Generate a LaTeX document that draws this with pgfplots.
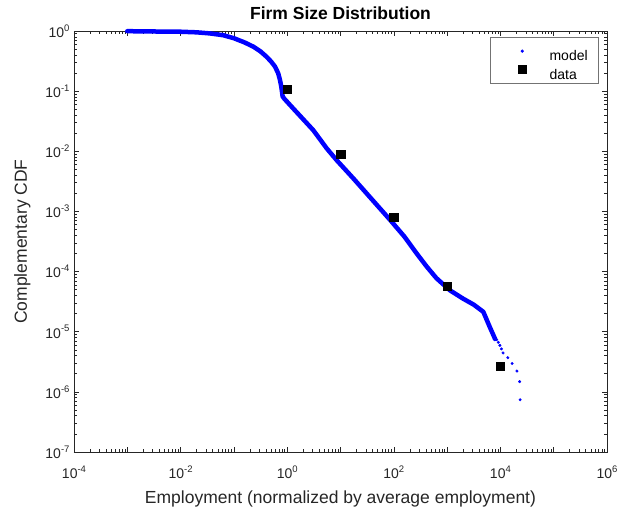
\documentclass[border=0pt]{standalone}
\usepackage{pgfplots}
\pgfplotsset{compat=1.18}
\usepackage{fontspec}
\setmainfont{Liberation Sans}
\newcommand{\tp}[1]{10\raisebox{0.44em}{\fontsize{9.5}{10}\selectfont #1}}
\begin{document}
\begin{tikzpicture}
\useasboundingbox (0,0) rectangle (618pt,509pt);
\begin{axis}[
  at={(74pt,57pt)}, anchor=south west,
  scale only axis, width=533pt, height=421pt,
  xmode=log, ymode=log,
  xmin=1e-4, xmax=1e6, ymin=1e-7, ymax=1,
  clip=false,
  axis line style={line width=0.8pt, black!85},
  every tick/.style={line width=0.6pt, black!85},
  tick align=inside,
  major tick length=5.5pt, minor tick length=3pt,
  xtick={1e-4,1e-3,1e-2,1e-1,1,1e1,1e2,1e3,1e4,1e5,1e6},
  xticklabels={\tp{-4},,\tp{-2},,\tp{0},,\tp{2},,\tp{4},,\tp{6}},
  ytick={1e-7,1e-6,1e-5,1e-4,1e-3,1e-2,1e-1,1},
  yticklabels={\tp{-7},\tp{-6},\tp{-5},\tp{-4},\tp{-3},\tp{-2},\tp{-1},\tp{0}},
  ticklabel style={font=\fontsize{14}{16}\selectfont, text=black!85},
  xticklabel style={yshift=-10pt},
  yticklabel style={xshift=-1pt},
  title={Firm Size Distribution},
  title style={at={(0.5,1)}, anchor=base, yshift=5.5pt, font=\fontsize{17.5}{20}\selectfont\bfseries},
  xlabel={Employment (normalized by average employment)},
  xlabel style={at={(axis description cs:0.5,0)}, anchor=base, yshift=-51pt, font=\fontsize{17.5}{20}\selectfont, text=black!85},
  ylabel={Complementary CDF},
  ylabel style={at={(axis description cs:0,0.5)}, anchor=base, yshift=47pt, font=\fontsize{17.5}{20}\selectfont, text=black!85},
  legend cell align=left,
  legend style={at={(rel axis cs:1,1)}, anchor=north east, xshift=-8pt, yshift=-6.3pt,
    draw=black!55, line width=0.6pt, font=\fontsize{14}{16}\selectfont,
    inner xsep=9pt, inner ysep=2pt, row sep=-4.6pt,
    nodes={inner ysep=0pt, text height=21pt, text depth=2pt}},
  legend image code/.code={\path (-23pt,0pt) (25pt,0pt); \draw[#1] plot coordinates {(0pt,0pt)};},
]
\addplot[blue, line width=4.5pt, line join=round, line cap=round, forget plot] coordinates {
(0.001,0.9931) (0.003162,0.9817) (0.01,0.9727) (0.01995,0.9506) (0.03548,0.9120)
(0.06310,0.8511) (0.1,0.7586) (0.1585,0.6457) (0.2312,0.5495) (0.3162,0.4571)
(0.4121,0.3715) (0.5012,0.3090) (0.5888,0.2570) (0.6761,0.1995) (0.7328,0.1531)
(0.7762,0.1175) (0.8222,0.08128) (0.8913,0.07413) (1.303,0.05129) (3.090,0.02239)
(5.495,0.01122) (8.511,0.007079) (17.38,0.003548) (85.11,7.244e-4) (158.5,3.802e-4)
(269.2,1.995e-4) (416.9,1.202e-4) (631.0,7.762e-5) (1122,4.898e-5) (1995,3.548e-5)
(3162,2.818e-5) (4786,2.138e-5) (6310,1.202e-5) (7943,7.59e-6)
};
\addplot[only marks, mark=*, mark size=1.3pt, blue, mark options={draw=blue, fill=blue}] coordinates {
(8511,7.40e-6) (9120,6.66e-6) (9772,5.92e-6) (10470,5.18e-6) (11220,4.44e-6)
(13800,3.70e-6) (16600,2.96e-6) (20420,2.22e-6) (22910,1.48e-6) (23440,7.4e-7)
};
\addlegendentry{model}
\addplot[only marks, mark=square*, mark size=4.2pt, black] coordinates {
(1,0.107) (10,0.00898) (100,8.1e-4) (1000,5.7e-5) (10000,2.67e-6)
};
\addlegendentry{data}
\end{axis}
\end{tikzpicture}
\end{document}
